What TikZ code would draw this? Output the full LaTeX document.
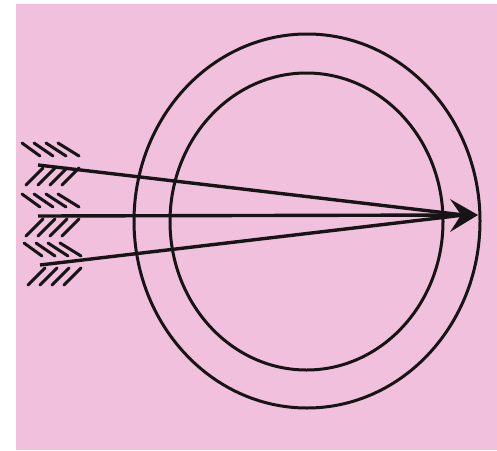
\documentclass[tikz,border=0pt]{standalone}
\usetikzlibrary{calc}
\definecolor{paper}{RGB}{240,192,220}
\definecolor{ink}{RGB}{22,20,22}
\tikzset{
  ring/.style={draw=ink, line width=3pt},
  shaft/.style={draw=ink, line width=3.4pt},
  feather/.style={draw=ink, line width=3pt, line cap=round},
}
\begin{document}
\begin{tikzpicture}[x=1pt,y=-1pt]
\useasboundingbox (0,0) rectangle (497,450);
\fill[white] (0,0) rectangle (497,450);
\fill[paper] (16,4) rectangle (497,450);
% target rings
\draw[ring] (307,221) ellipse [x radius=173, y radius=187];
\draw[ring] (306.5,221.5) ellipse [x radius=136.5, y radius=148.5];
% arrows
\coordinate (tip) at (478,215);
\coordinate (a1) at (38,165);
\coordinate (a2) at (38,216);
\coordinate (a3) at (40,265);
\foreach \a in {a1,a2,a3}{
  \draw[shaft] (\a) -- ($(tip)+(-14,0)$);
  \foreach \k in {0,1,2,3}{
    \draw[feather] ($(\a)+(-16+12*\k,-22)$) -- ($(\a)+(2+12*\k+\k,-9)$);
    \draw[feather] ($(\a)+(-12+12*\k,20)$) -- ($(\a)+(5+12*\k,3)$);
  }
}
\fill[ink] (tip) -- (450,199) -- (461,215) -- (450,232) -- cycle;
\end{tikzpicture}
\end{document}
